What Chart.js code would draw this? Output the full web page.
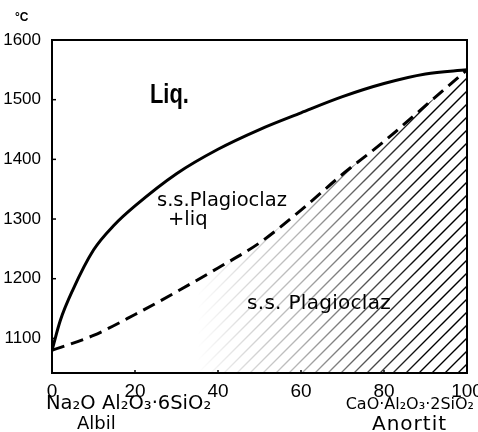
<!DOCTYPE html>
<html>
<head>
<meta charset="utf-8">
<script src="https://cdn.jsdelivr.net/npm/chart.js@4.4.0/dist/chart.umd.min.js"></script>
<style>
  html, body { margin: 0; padding: 0; background: #fff; }
  #wrap { width: 478px; height: 432px; position: relative; }
</style>
</head>
<body>
<div id="wrap"><canvas id="diag" width="478" height="432"></canvas></div>
<script>
// composition, % anortit
const liqX = [0, 2, 5, 10, 15, 20, 30, 40, 50, 60, 70, 80, 90, 100];
const liqT = [1080, 1130, 1181, 1248, 1290, 1322, 1376, 1417, 1450, 1478, 1505, 1527, 1543, 1550];

const solX = [0, 10, 20, 30, 40, 50, 60, 70, 80, 90, 100];
const solT = [1080, 1105, 1140, 1178, 1218, 1260, 1315, 1375, 1430, 1490, 1550];

const yTicks = [1100, 1200, 1300, 1400, 1500, 1600];
const hatchFrom = 35;   // hatching starts here, fades in to the right

const FONT = "'DejaVu Sans', sans-serif";
const TICKF = "'Liberation Sans', Arial, sans-serif";

const toPts = (xs, ys) => xs.map((x, i) => ({x: x, y: ys[i]}));

// hatching under the solidus + frame + labels
const extras = {
    id: 'extras',
    beforeDatasetsDraw(chart) {
        const ctx = chart.ctx;
        const area = chart.chartArea;
        const xs = chart.scales.x;
        const pts = chart.getDatasetMeta(1).data;
        ctx.save();
        ctx.beginPath();
        ctx.moveTo(pts[0].x, pts[0].y);
        for (let i = 1; i < pts.length; i++) ctx.lineTo(pts[i].x, pts[i].y);
        ctx.lineTo(area.right, area.bottom);
        ctx.lineTo(area.left, area.bottom);
        ctx.closePath();
        ctx.clip();

        let g = ctx.createLinearGradient(xs.getPixelForValue(hatchFrom), 0, xs.getPixelForValue(90), 0);
        g.addColorStop(0, 'rgba(0,0,0,0)');
        g.addColorStop(0.45, 'rgba(0,0,0,0.3)');
        g.addColorStop(1, 'rgba(0,0,0,1)');
        ctx.strokeStyle = g;
        ctx.lineWidth = 1.3;
        const h = area.bottom - area.top;
        for (let x0 = area.right + 4; x0 > area.left - h; x0 -= 13) {
            ctx.beginPath();
            ctx.moveTo(x0, area.bottom);
            ctx.lineTo(x0 + h, area.bottom - h);
            ctx.stroke();
        }
        ctx.restore();
    },
    afterDraw(chart) {
        const ctx = chart.ctx;
        const area = chart.chartArea;
        const xs = chart.scales.x, ys = chart.scales.y;
        ctx.save();
        ctx.strokeStyle = '#000';
        ctx.lineWidth = 2;
        ctx.beginPath();
        ctx.moveTo(area.left, area.top);
        ctx.lineTo(area.right, area.top);
        ctx.lineTo(area.right, area.bottom);
        ctx.stroke();

        // small inward tick marks
        ctx.lineWidth = 1.5;
        yTicks.forEach(t => {
            const y = ys.getPixelForValue(t);
            ctx.beginPath(); ctx.moveTo(area.left, y); ctx.lineTo(area.left + 4, y); ctx.stroke();
        });
        [20, 40, 60, 80].forEach(t => {
            const x = xs.getPixelForValue(t);
            ctx.beginPath(); ctx.moveTo(x, area.bottom); ctx.lineTo(x, area.bottom - 3); ctx.stroke();
        });

        ctx.fillStyle = '#000';
        ctx.textBaseline = 'middle';
        ctx.textAlign = 'left';
        ctx.font = 'bold 12px ' + TICKF;
        ctx.fillText('°C', 15, 18);

        // tall, narrow "Liq."
        ctx.save();
        ctx.translate(150, 95);
        ctx.scale(0.78, 1);
        ctx.font = 'bold 28px ' + TICKF;
        ctx.fillText('Liq.', 0, 0);
        ctx.restore();

        ctx.font = '19.5px ' + FONT;
        ctx.fillText('s.s.Plagioclaz', 157, 201);
        ctx.fillText('+liq', 168, 220);
        ctx.font = '20px ' + FONT;
        ctx.letterSpacing = '0.3px';
        ctx.fillText('s.s. Plagioclaz', 247, 304);
        ctx.letterSpacing = '0px';

        ctx.font = '19.5px ' + FONT;
        ctx.fillText('Na₂O Al₂O₃·6SiO₂', 46, 404);
        ctx.font = '18px ' + FONT;
        ctx.fillText('Albil', 77, 424);
        ctx.textAlign = 'right';
        ctx.font = '16px ' + FONT;
        ctx.fillText('CaO·Al₂O₃·2SiO₂', 474, 405);
        ctx.textAlign = 'left';
        ctx.font = '20px ' + FONT;
        ctx.letterSpacing = '1px';
        ctx.fillText('Anortit', 372, 425);
        ctx.restore();
    }
};

new Chart(document.getElementById('diag').getContext('2d'), {
    type: 'line',
    data: {
        datasets: [{
            label: 'Liquidus',
            data: toPts(liqX, liqT),
            borderColor: '#000',
            borderWidth: 3,
            pointRadius: 0,
            cubicInterpolationMode: 'monotone',
            fill: false
        }, {
            label: 'Solidus',
            data: toPts(solX, solT),
            borderColor: '#000',
            borderWidth: 3,
            borderDash: [13, 7],
            pointRadius: 0,
            cubicInterpolationMode: 'monotone',
            fill: false
        }]
    },
    options: {
        responsive: false,
        animation: false,
        maintainAspectRatio: false,
        layout: { padding: { left: 0, top: 40, right: 11, bottom: 0 } },
        plugins: { legend: { display: false }, tooltip: { enabled: false } },
        scales: {
            x: {
                type: 'linear', min: 0, max: 100,
                ticks: { stepSize: 20, color: '#000', font: { family: TICKF, size: 19 }, padding: -1, maxRotation: 0, autoSkip: false },
                grid: { display: false },
                border: { color: '#000', width: 2 },
                afterFit: s => { s.height = 59; s.paddingLeft = 0; s.paddingRight = 0; }
            },
            y: {
                type: 'linear', min: 1042, max: 1600,
                afterBuildTicks: s => { s.ticks = yTicks.map(v => ({value: v})); },
                ticks: { color: '#000', font: { family: TICKF, size: 17 }, padding: 3, callback: v => String(v) },
                grid: { display: false },
                border: { color: '#000', width: 2 },
                afterFit: s => { s.width = 52; s.paddingTop = 0; s.paddingBottom = 0; }
            }
        }
    },
    plugins: [extras]
});
</script>
</body>
</html>
